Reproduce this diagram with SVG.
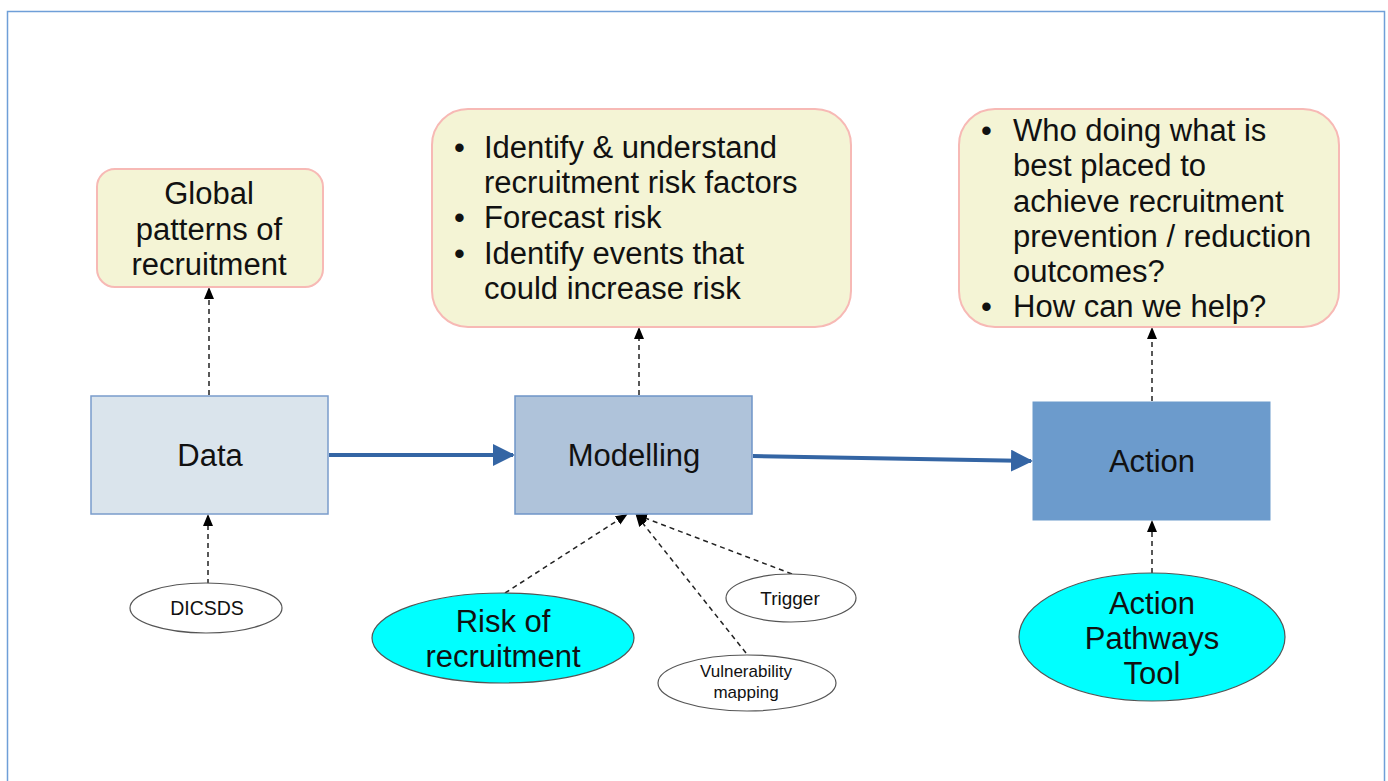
<svg xmlns="http://www.w3.org/2000/svg" width="1388" height="781" viewBox="0 0 1388 781">
<defs>
<marker id="dash-arrow" markerWidth="12" markerHeight="12" refX="10" refY="5" orient="auto" markerUnits="userSpaceOnUse" viewBox="0 0 12 10">
<path d="M0,0 L12,5 L0,10 Z" fill="#000"/>
</marker>
<marker id="blue-arrow" markerWidth="22" markerHeight="22" refX="20" refY="11" orient="auto" markerUnits="userSpaceOnUse" viewBox="0 0 22 22">
<path d="M0,0 L22,11 L0,22 Z" fill="#3465a4"/>
</marker>
<style>
.t{font-family:"Liberation Sans",Arial,sans-serif;fill:#111;}
.big{font-size:31px;}
.small{font-size:19.5px;}
.note{fill:#f4f4d5;stroke:#f7b9b5;stroke-width:2;}
.dash{stroke:#222;stroke-width:1.5;stroke-dasharray:5,4;fill:none;marker-end:url(#dash-arrow);}
.blue{stroke:#3465a4;stroke-width:4;fill:none;marker-end:url(#blue-arrow);}
.oval{fill:#fff;stroke:#555;stroke-width:1.2;}
.cyan{fill:#00ffff;stroke:#555;stroke-width:1.2;}
</style>
</defs>
<rect width="1388" height="781" fill="#fff"/>
<path d="M7.5,781 V11.5 H1384.5 V781" fill="none" stroke="#6f9fd8" stroke-width="1.5"/>

<g id="connectors">
<line class="blue" x1="329" y1="455" x2="513" y2="455"/>
<line class="blue" x1="753" y1="456" x2="1031" y2="461"/>
<line class="dash" x1="209" y1="395" x2="209" y2="289"/>
<line class="dash" x1="639" y1="395" x2="639" y2="329"/>
<line class="dash" x1="1152" y1="401" x2="1152" y2="329"/>
<line class="dash" x1="208" y1="584" x2="208" y2="516"/>
<line class="dash" x1="505" y1="593" x2="626" y2="515"/>
<line class="dash" x1="792" y1="574" x2="637" y2="515"/>
<line class="dash" x1="746" y1="653" x2="637" y2="516"/>
<line class="dash" x1="1152" y1="573" x2="1152" y2="522"/>
</g>

<g id="global-patterns">
<rect class="note" x="97" y="169" width="226" height="118" rx="18"/>
<text class="t big" text-anchor="middle" x="209" y="204">Global</text>
<text class="t big" text-anchor="middle" x="209" y="239.5">patterns of</text>
<text class="t big" text-anchor="middle" x="209" y="275">recruitment</text>
</g>

<g id="modelling-goals">
<rect class="note" x="432" y="109" width="419" height="218" rx="36"/>
<g class="t big">
<text x="454" y="158">•</text><text x="484" y="158">Identify &amp; understand</text>
<text x="484" y="193">recruitment risk factors</text>
<text x="454" y="228">•</text><text x="484" y="228">Forecast risk</text>
<text x="454" y="263.5">•</text><text x="484" y="263.5">Identify events that</text>
<text x="484" y="298.5">could increase risk</text>
</g>
</g>

<g id="action-goals">
<rect class="note" x="959" y="109" width="380" height="218" rx="36"/>
<g class="t big">
<text x="981" y="141">•</text><text x="1013" y="141">Who doing what is</text>
<text x="1013" y="176">best placed to</text>
<text x="1013" y="211.5">achieve recruitment</text>
<text x="1013" y="246.5">prevention / reduction</text>
<text x="1013" y="281.5">outcomes?</text>
<text x="981" y="317">•</text><text x="1013" y="317">How can we help?</text>
</g>
</g>

<g id="data">
<rect x="91" y="396" width="237" height="118" fill="#dae4ec" stroke="#7a9ccb" stroke-width="1.5"/>
<text class="t big" text-anchor="middle" x="210" y="465.5">Data</text>
</g>

<g id="modelling">
<rect x="515" y="396" width="237" height="118" fill="#afc3da" stroke="#6f95c8" stroke-width="1.5"/>
<text class="t big" text-anchor="middle" x="634" y="465.5">Modelling</text>
</g>

<g id="action">
<rect x="1033" y="402" width="237" height="118" fill="#6c9bcc" stroke="#6c9bcc" stroke-width="1"/>
<text class="t big" text-anchor="middle" x="1152" y="471.5">Action</text>
</g>

<g id="dicsds">
<ellipse class="oval" cx="206" cy="608" rx="76" ry="25"/>
<text class="t small" text-anchor="middle" x="207" y="615">DICSDS</text>
</g>

<g id="risk-of-recruitment">
<ellipse class="cyan" cx="503" cy="638" rx="131" ry="45"/>
<text class="t big" text-anchor="middle" x="503" y="631.5">Risk of</text>
<text class="t big" text-anchor="middle" x="503" y="666.5">recruitment</text>
</g>

<g id="trigger">
<ellipse class="oval" cx="791" cy="598" rx="65" ry="24"/>
<text class="t" font-size="19" text-anchor="middle" x="790" y="605">Trigger</text>
</g>

<g id="vulnerability-mapping">
<ellipse class="oval" cx="747" cy="683" rx="89" ry="28"/>
<text class="t" font-size="17" text-anchor="middle" x="746" y="677">Vulnerability</text>
<text class="t" font-size="17" text-anchor="middle" x="746" y="698">mapping</text>
</g>

<g id="action-pathways-tool">
<ellipse class="cyan" cx="1152" cy="637" rx="133" ry="64"/>
<text class="t big" text-anchor="middle" x="1152" y="613.5">Action</text>
<text class="t big" text-anchor="middle" x="1152" y="648.5">Pathways</text>
<text class="t big" text-anchor="middle" x="1152" y="683.5">Tool</text>
</g>
</svg>
